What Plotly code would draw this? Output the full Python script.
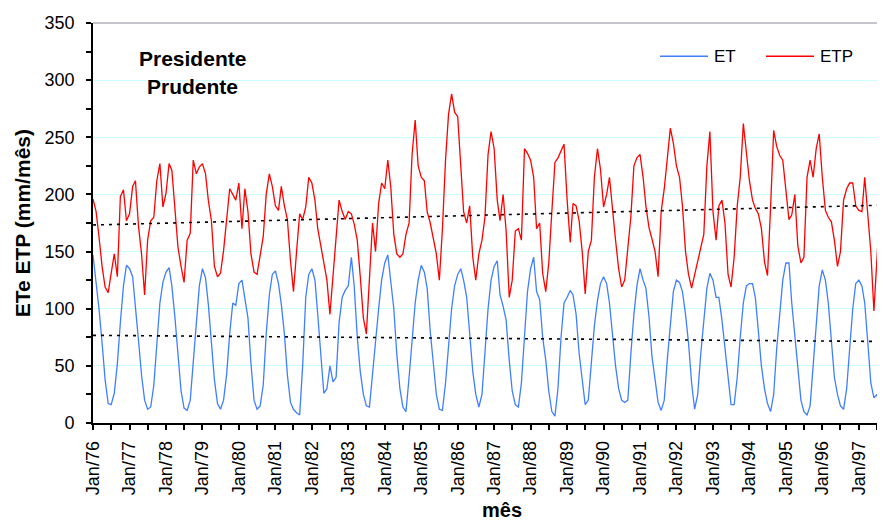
import numpy as np
import pandas as pd
import plotly.graph_objects as go

# ---- data (monthly, Jan/1976 .. Sep/1997) ----
start_month = "1976-01-01"
tick_labels_format = "%b/%y"

et = [
    147, 125, 100, 70, 38, 17, 16, 26, 52, 88, 120, 138,      # 1976
    135, 128, 104, 72, 42, 20, 12, 14, 33, 68, 105, 123,      # 1977
    132, 136, 120, 92, 57, 28, 13, 11, 20, 52, 92, 120,       # 1978
    135, 127, 104, 68, 38, 17, 12, 20, 43, 78, 105, 103,      # 1979
    122, 125, 110, 92, 52, 20, 12, 15, 33, 78, 112, 130,      # 1980
    133, 122, 104, 78, 42, 18, 12, 9, 7, 50, 110, 130,        # 1981
    135, 125, 95, 63, 26, 30, 50, 36, 40, 88, 110, 116,       # 1982
    120, 145, 120, 75, 45, 25, 15, 14, 45, 70, 100, 125,      # 1983
    140, 147, 125, 100, 60, 30, 14, 10, 40, 75, 105, 125,     # 1984
    138, 132, 118, 80, 50, 25, 12, 11, 35, 65, 100, 120,      # 1985
    130, 135, 125, 110, 75, 45, 25, 14, 25, 60, 100, 125,     # 1986
    137, 142, 112, 102, 90, 55, 28, 16, 14, 35, 80, 115,      # 1987
    135, 145, 115, 108, 75, 55, 28, 10, 6, 30, 75, 105,       # 1988
    110, 116, 112, 95, 61, 35, 16, 20, 50, 85, 107, 122,      # 1989
    128, 122, 105, 78, 50, 30, 20, 18, 20, 60, 95, 120,       # 1990
    135, 125, 118, 93, 58, 38, 18, 11, 20, 55, 85, 115,       # 1991
    125, 123, 115, 95, 70, 35, 12, 25, 61, 90, 118, 131,      # 1992
    125, 110, 110, 90, 65, 35, 16, 16, 40, 75, 105, 120,      # 1993
    122, 122, 110, 80, 50, 30, 17, 10, 25, 65, 95, 125,       # 1994
    140, 140, 105, 75, 45, 20, 10, 7, 15, 50, 90, 120,        # 1995
    134, 125, 105, 70, 40, 25, 15, 12, 30, 65, 100, 122,      # 1996
    125, 120, 105, 70, 35, 22, 25, 14, 55,                    # 1997
]

etp = [
    196, 185, 163, 137, 119, 114, 131, 148, 128, 198, 204, 177,   # 1976
    183, 207, 212, 172, 148, 112, 160, 177, 180, 212, 227, 189,   # 1977
    201, 227, 221, 183, 154, 137, 123, 160, 166, 230, 218, 224,   # 1978
    227, 218, 195, 177, 137, 128, 131, 151, 180, 205, 200, 195,   # 1979
    210, 170, 205, 185, 148, 132, 130, 145, 163, 200, 218, 207,   # 1980
    190, 186, 207, 190, 178, 142, 115, 150, 183, 178, 189, 215,   # 1981
    210, 195, 170, 155, 140, 125, 95, 131, 163, 195, 185, 178,    # 1982
    185, 183, 174, 160, 128, 92, 78, 128, 175, 150, 192, 210,     # 1983
    205, 230, 207, 165, 148, 145, 148, 165, 175, 235, 265, 225,   # 1984
    215, 212, 185, 175, 160, 148, 125, 170, 230, 270, 288, 272,   # 1985
    268, 220, 185, 175, 190, 145, 125, 148, 160, 180, 235, 255,   # 1986
    240, 195, 177, 200, 168, 110, 125, 168, 170, 160, 240, 236,   # 1987
    230, 215, 170, 175, 131, 115, 140, 185, 228, 232, 238, 244,   # 1988
    195, 158, 192, 190, 177, 150, 113, 150, 160, 215, 240, 222,   # 1989
    189, 200, 215, 185, 160, 135, 119, 125, 150, 180, 225, 232,   # 1990
    235, 215, 190, 171, 161, 150, 128, 185, 205, 230, 258, 245,   # 1991
    225, 215, 190, 150, 130, 118, 130, 140, 152, 165, 225, 255,   # 1992
    185, 160, 190, 195, 175, 130, 119, 145, 190, 215, 262, 240,   # 1993
    212, 195, 188, 183, 170, 141, 129, 189, 256, 242, 234, 230,   # 1994
    205, 178, 182, 200, 155, 140, 145, 215, 230, 215, 240, 253,   # 1995
    215, 186, 180, 176, 160, 137, 150, 195, 205, 210, 210, 190,   # 1996
    186, 185, 215, 185, 150, 98, 140, 190, 205,                   # 1997
]

series_names = ["ET", "ETP"]
series_colors = ["#3f7fff", "#ff0000"]

n = len(et)
dates = pd.date_range(start_month, periods=n, freq="MS")

# linear trends (as Excel trendlines) computed from the data
idx = np.arange(n)
et_fit = np.polyfit(idx, et, 1)
etp_fit = np.polyfit(idx, etp, 1)
trend_x = [dates[0], dates[-1]]
et_trend = [np.polyval(et_fit, 0), np.polyval(et_fit, n - 1)]
etp_trend = [np.polyval(etp_fit, 0), np.polyval(etp_fit, n - 1)]

FONT = "Liberation Sans, Arial, sans-serif"

fig = go.Figure()
fig.add_trace(go.Scatter(x=dates, y=et, mode="lines", name="ET",
                         line=dict(color=series_colors[0], width=1.3),
                         showlegend=False))
fig.add_trace(go.Scatter(x=dates, y=etp, mode="lines", name="ETP",
                         line=dict(color=series_colors[1], width=1.3),
                         showlegend=False))
fig.add_trace(go.Scatter(x=trend_x, y=etp_trend, mode="lines",
                         line=dict(color="black", width=1.6, dash="3px,5px"),
                         showlegend=False, hoverinfo="skip"))
fig.add_trace(go.Scatter(x=trend_x, y=et_trend, mode="lines",
                         line=dict(color="black", width=1.6, dash="3px,5px"),
                         showlegend=False, hoverinfo="skip"))

# page offset of the figure (browser body margin)
OFF = 8
# plot area in page pixels
L, T, W, H = 93, 22.7, 792, 400
FIG_W, FIG_H = 885 - OFF, 525 - OFF

def px(xp):
    return (xp - L) / W
def py(yp):
    return (T + H - yp) / H

shapes = [
    # legend white box
    dict(type="rect", xref="paper", yref="paper", x0=px(642), x1=px(866),
         y0=py(88), y1=py(32), fillcolor="white", line=dict(width=0), layer="below"),
    # top border of plot area
    dict(type="line", xref="paper", yref="paper", x0=0, x1=1, y0=1, y1=1,
         line=dict(color="#8c8c9c", width=1.2)),
    # legend lines
    dict(type="line", xref="paper", yref="paper", x0=px(660), x1=px(708),
         y0=py(56), y1=py(56), line=dict(color=series_colors[0], width=1.5)),
    dict(type="line", xref="paper", yref="paper", x0=px(766), x1=px(814),
         y0=py(56), y1=py(56), line=dict(color=series_colors[1], width=1.5)),
]

def ann(text, x, y, size, bold=False, xanchor="center", angle=0):
    return dict(text=f"<b>{text}</b>" if bold else text, x=px(x), y=py(y),
                xref="paper", yref="paper", xanchor=xanchor, yanchor="middle",
                textangle=angle, showarrow=False,
                font=dict(family=FONT, size=size, color="black"))

annotations = [
    ann("Presidente", 192, 58, 21, bold=True),
    ann("Prudente", 192, 86, 21, bold=True),
    ann(series_names[0], 712, 56, 17, xanchor="left"),
    ann(series_names[1], 818, 56, 17, xanchor="left"),
    ann("ETe ETP (mm/mês)", 22, 223, 21, bold=True, angle=-90),
    ann("mês", 502, 510, 20, bold=True),
]

fig.update_layout(
    width=FIG_W, height=FIG_H,
    margin=dict(l=L - OFF, r=0, t=T - OFF, b=FIG_H - (T - OFF) - H, pad=0),
    paper_bgcolor="white", plot_bgcolor="white",
    shapes=shapes, annotations=annotations,
    font=dict(family=FONT, size=18, color="black"),
    showlegend=False,
    xaxis=dict(
        type="date",
        range=[pd.Timestamp("1975-12-31 22:00"), pd.Timestamp("1997-09-20")],
        dtick="M12", tick0=start_month, tickformat=tick_labels_format,
        tickangle=-90, ticks="outside", ticklen=5, tickwidth=1.5, tickcolor="black",
        ticklabelstandoff=4,
        minor=dict(dtick="M6", tick0=start_month, ticks="outside", ticklen=5,
                   tickwidth=1.5, tickcolor="black", showgrid=False),
        showline=True, linecolor="black", linewidth=1.8,
        showgrid=False, zeroline=False, automargin=False,
        tickfont=dict(family=FONT, size=18, color="black"),
    ),
    yaxis=dict(
        range=[0, 350], dtick=50, tick0=0,
        ticks="outside", ticklen=5, tickwidth=1.5, tickcolor="black",
        ticklabelstandoff=8,
        minor=dict(dtick=25, tick0=0, ticks="outside", ticklen=5, tickwidth=1.5,
                   tickcolor="black", showgrid=False),
        showline=True, linecolor="black", linewidth=1.8,
        showgrid=True, gridcolor="#ccffff", gridwidth=1.2, zeroline=False,
        automargin=False,
        tickfont=dict(family=FONT, size=18, color="black"),
    ),
)

fig.write_html("out.html")
